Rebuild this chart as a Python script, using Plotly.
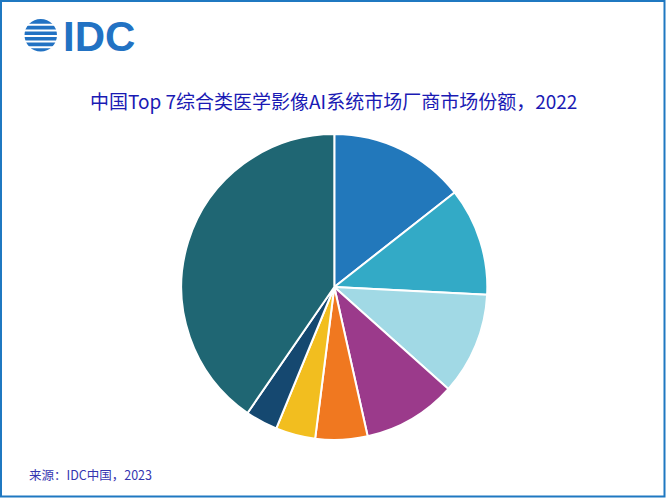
import plotly.graph_objects as go

W, H = 666, 498

labels = ["厂商1", "厂商2", "厂商3", "厂商4", "厂商5", "厂商6", "厂商7", "其他"]
shares = [14.4, 11.4, 10.8, 9.9, 5.5, 4.2, 3.4, 40.4]
colors = ["#2278BB", "#33AAC6", "#A1D9E5", "#9B3A8B", "#F07820", "#F2BE1F", "#154870", "#1F6673"]

title_text = "中国Top 7综合类医学影像AI系统市场厂商市场份额，2022"
source_text = "来源：IDC中国，2023"

def px(x):
    return x / W

def py(y):
    return (H - y) / H

cx, cy, r = 334.3, 287.0, 153.0

fig = go.Figure(go.Pie(
    labels=labels,
    values=shares,
    sort=False,
    direction="clockwise",
    rotation=0,
    marker=dict(colors=colors, line=dict(color="white", width=2)),
    textinfo="none",
    showlegend=False,
    domain=dict(x=[px(cx - r), px(cx + r)], y=[py(cy + r), py(cy - r)]),
))

shapes = [
    dict(type="rect", xref="paper", yref="paper",
         x0=px(1), x1=px(664.5), y0=py(496.5), y1=py(1),
         line=dict(color="#1F78C1", width=2), fillcolor="rgba(0,0,0,0)"),
    dict(type="circle", xref="paper", yref="paper",
         x0=px(24.5), x1=px(57.0), y0=py(51.5), y1=py(19.0),
         line=dict(width=0), fillcolor="#2272C3"),
]
for gy in [24.8, 30.4, 36.0, 41.6, 47.2]:
    shapes.append(dict(type="rect", xref="paper", yref="paper",
                       x0=px(22), x1=px(60), y0=py(gy + 1.0), y1=py(gy - 1.0),
                       line=dict(width=0), fillcolor="white"))

annotations = [
    dict(text="<b>IDC</b>", xref="paper", yref="paper", x=px(61), y=py(36),
         xanchor="left", yanchor="middle", showarrow=False,
         font=dict(family="Liberation Sans, Arial", size=42, color="#2272C3")),
    dict(text=title_text, xref="paper", yref="paper", x=px(333), y=py(101),
         xanchor="center", yanchor="middle", showarrow=False,
         font=dict(family="Noto Sans CJK SC", size=19, color="#1A1AB4")),
    dict(text=source_text, xref="paper", yref="paper", x=px(27), y=py(474),
         xanchor="left", yanchor="middle", showarrow=False,
         font=dict(family="Noto Sans CJK SC", size=12.5, color="#3535B0")),
]

fig.update_layout(
    width=W, height=H,
    margin=dict(l=0, r=0, t=0, b=0),
    paper_bgcolor="white",
    plot_bgcolor="white",
    shapes=shapes,
    annotations=annotations,
)

fig.write_html("out.html")
